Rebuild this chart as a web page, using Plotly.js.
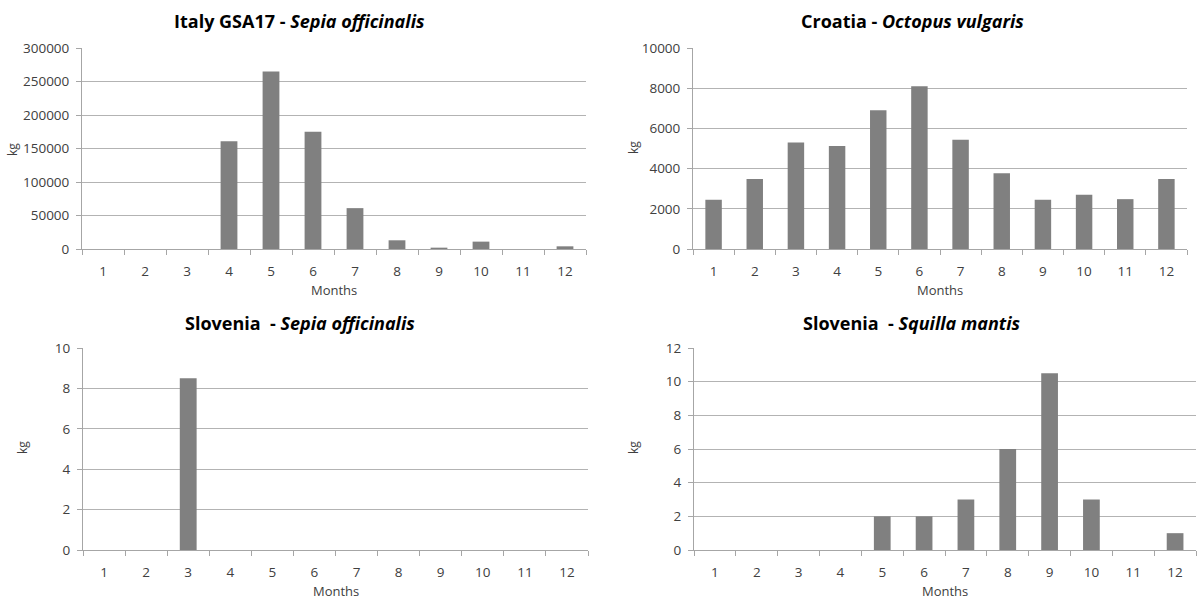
<!DOCTYPE html>
<html>
<head>
<meta charset="utf-8">
<script src="https://cdn.plot.ly/plotly-3.0.1.min.js"></script>
<style>html,body{margin:0;padding:0;background:#fff;}#chart{width:1200px;height:599px;}</style>
</head>
<body>
<div id="chart"></div>
<script>
const months = ["1","2","3","4","5","6","7","8","9","10","11","12"];
const italySepia = [0, 0, 0, 161000, 265000, 175000, 61000, 13000, 2000, 11000, 0, 4000];
const croatiaOctopus = [2450, 3480, 5300, 5130, 6900, 8100, 5430, 3770, 2450, 2700, 2480, 3480];
const sloveniaSepia = [0, 0, 8.5, 0, 0, 0, 0, 0, 0, 0, 0, 0];
const sloveniaSquilla = [0, 0, 0, 0, 2, 2, 3, 6, 10.5, 3, 0, 1];

const titles = [
  "<b>Italy GSA17 - <i>Sepia officinalis</i></b>",
  "<b>Croatia - <i>Octopus vulgaris</i></b>",
  "<b>Slovenia  - <i>Sepia officinalis</i></b>",
  "<b>Slovenia  - <i>Squilla mantis</i></b>"
];
const yRanges = [[0, 300000], [0, 10000], [0, 10], [0, 12]];
const yDticks = [50000, 2000, 2, 2];

const W = 1200, H = 599;
// pixel boxes [left, right, top, bottom]
const boxes = [[82, 586, 48, 249], [693, 1187, 48, 249], [83, 588, 348, 550], [694, 1196, 348, 550]];
const titlePos = [[299, 21], [912, 21], [300, 323], [912, 323]];
const kgPos = [[12, 150], [633, 148], [22, 448], [633, 448]];
const series = [italySepia, croatiaOctopus, sloveniaSepia, sloveniaSquilla];

const fontFam = "Open Sans, Liberation Sans, sans-serif";
const data = [];
const layout = {
  width: W, height: H,
  margin: {l: 0, r: 0, t: 0, b: 0},
  paper_bgcolor: "#ffffff",
  plot_bgcolor: "#ffffff",
  showlegend: false,
  bargap: 0.6,
  font: {family: fontFam, color: "#404040", size: 13},
  annotations: []
};

series.forEach((vals, i) => {
  const n = i + 1;
  const sfx = (n === 1 ? "" : String(n));
  const xa = "x" + sfx;
  const ya = "y" + sfx;
  data.push({
    type: "bar", x: months, y: vals, xaxis: xa, yaxis: ya,
    marker: {color: "#808080", line: {width: 0}},
    hoverinfo: "x+y"
  });
  const b = boxes[i];
  layout["xaxis" + sfx] = {
    type: "category",
    domain: [b[0] / W, b[1] / W],
    anchor: ya,
    showgrid: false,
    showline: true, linecolor: "#a6a6a6", linewidth: 1,
    ticks: "outside", ticklen: 10, tickcolor: "rgba(0,0,0,0)",
    tickfont: {size: 13.5, color: "#404040", family: fontFam},
    fixedrange: true
  };
  // tick marks at month boundaries (Excel style)
  const tn = n + 4;
  layout["xaxis" + tn] = {
    overlaying: xa,
    anchor: ya,
    side: "bottom",
    type: "linear",
    range: [-0.5, months.length - 0.5],
    tickmode: "linear", tick0: -0.5, dtick: 1,
    showticklabels: false,
    showgrid: false, zeroline: false, showline: false,
    ticks: "outside", ticklen: 5, tickcolor: "#a6a6a6",
    fixedrange: true
  };
  data.push({
    type: "scatter", mode: "markers", x: [0], y: [0],
    xaxis: "x" + tn, yaxis: ya,
    marker: {opacity: 0}, hoverinfo: "skip", showlegend: false
  });
  layout["yaxis" + sfx] = {
    domain: [1 - b[3] / H, 1 - b[2] / H],
    anchor: xa,
    range: yRanges[i],
    dtick: yDticks[i],
    tick0: 0,
    tickformat: "d",
    showgrid: true, gridcolor: "#b3b3b3", gridwidth: 1,
    showline: true, linecolor: "#a6a6a6", linewidth: 1,
    ticks: "outside", ticklen: 5, tickcolor: "#a6a6a6",
    ticklabelstandoff: 4,
    zeroline: false,
    tickfont: {size: 13.5, color: "#404040", family: fontFam},
    fixedrange: true
  };
  layout.annotations.push({
    text: titles[i], xref: "paper", yref: "paper",
    x: titlePos[i][0] / W, y: 1 - titlePos[i][1] / H,
    xanchor: "center", yanchor: "middle", showarrow: false,
    font: {size: 18, color: "#000000", family: fontFam}
  });
  layout.annotations.push({
    text: "Months", xref: "paper", yref: "paper",
    x: ((b[0] + b[1]) / 2) / W, y: 1 - (b[3] + 41) / H,
    xanchor: "center", yanchor: "middle", showarrow: false,
    font: {size: 13, color: "#404040", family: fontFam}
  });
  layout.annotations.push({
    text: "kg", xref: "paper", yref: "paper",
    x: kgPos[i][0] / W, y: 1 - kgPos[i][1] / H,
    xanchor: "center", yanchor: "middle", showarrow: false, textangle: -90,
    font: {size: 12, color: "#404040", family: fontFam}
  });
});

Plotly.newPlot("chart", data, layout, {staticPlot: true, displayModeBar: false});
</script>
</body>
</html>
